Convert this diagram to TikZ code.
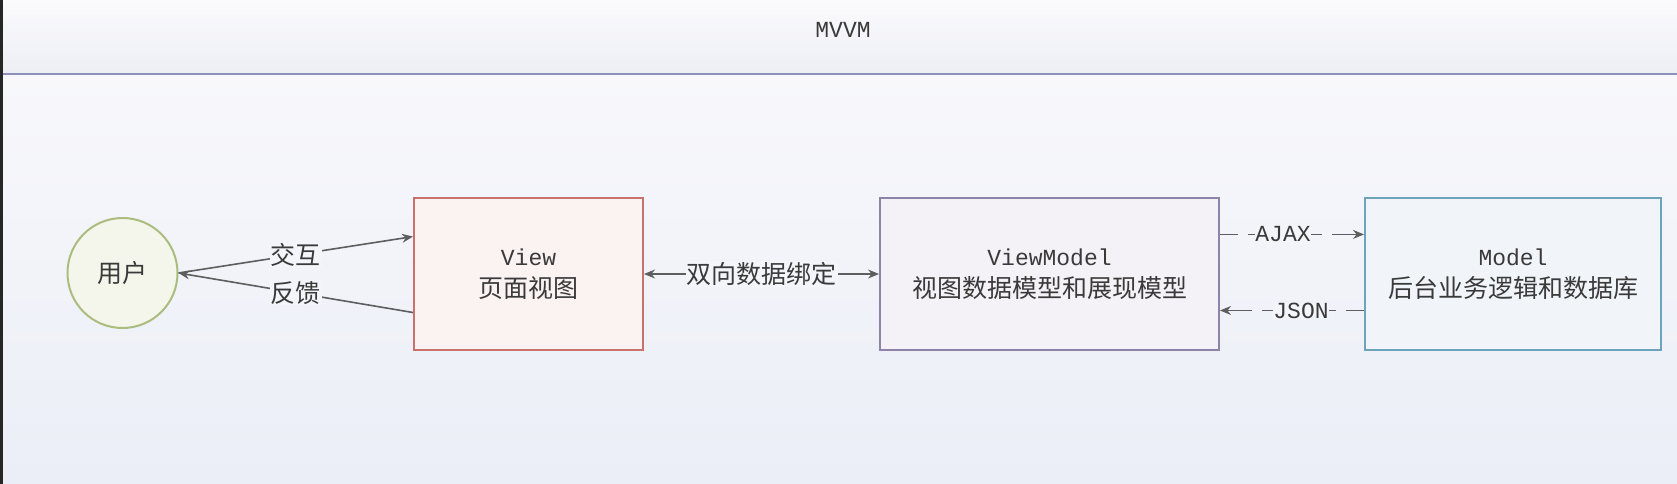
\documentclass[tikz,border=0pt]{standalone}
\usepackage{fontspec}
\newfontfamily\cjk{Noto Sans CJK SC}
\newfontfamily\mono{Liberation Mono}
\usetikzlibrary{arrows.meta,calc}
\definecolor{bgtop}{HTML}{F8F8FB}
\definecolor{bgbot}{HTML}{EBEEF7}
\definecolor{hdtop}{HTML}{FBFBFD}
\definecolor{hdbot}{HTML}{EDEEF5}
\definecolor{hdline}{HTML}{8C8FB6}
\definecolor{txt}{HTML}{3A3A3A}
\definecolor{conn}{HTML}{5E5E5E}
\definecolor{labbg}{HTML}{F4F5FA}
\definecolor{viewdraw}{HTML}{C9716D}
\definecolor{viewfill}{HTML}{FBF2F2}
\definecolor{vmdraw}{HTML}{8E84AA}
\definecolor{vmfill}{HTML}{F4F2F7}
\definecolor{mdraw}{HTML}{6EA3BD}
\definecolor{mfill}{HTML}{F1F5F9}
\definecolor{udraw}{HTML}{AABD7E}
\definecolor{ufill}{HTML}{F4F6EC}
\tikzset{
  cjkfont/.style={font=\cjk\fontsize{25}{32}\selectfont, text=txt},
  boxnode/.style={draw, line width=2pt, align=center, inner sep=0pt, cjkfont},
  conline/.style={draw=conn, line width=1.6pt, -{Stealth[length=11pt,width=9pt]}},
  dashline/.style={draw=conn, line width=1.6pt, dash pattern=on 18pt off 10pt},
  lab/.style={fill=labbg, inner sep=1pt, cjkfont},
  monolab/.style={fill=labbg, inner sep=0pt, font=\mono\fontsize{23}{28}\selectfont, text=txt},
}
\newcommand{\mtxt}[1]{{\mono\fontsize{23}{32}\selectfont #1}}
\begin{document}
\begin{tikzpicture}[x=1pt,y=-1pt]
\useasboundingbox (0,0) rectangle (1677,484);
% backgrounds
\shade[top color=hdtop, bottom color=hdbot] (0,0) rectangle (1677,74);
\shade[top color=bgtop, bottom color=bgbot] (0,74) rectangle (1677,484);
\draw[hdline, line width=2.5pt] (0,74) -- (1677,74);
\fill[black!85] (0,0) rectangle (2.5,484);
\node[font=\mono\fontsize{23}{28}\selectfont, text=txt] (title) at (843,30) {MVVM};
% nodes
\node[circle, draw=udraw, fill=ufill, line width=2pt, minimum size=110pt, inner sep=0pt, cjkfont] (user) at (122.5,273) {用户};
\node[boxnode, draw=viewdraw, fill=viewfill, minimum width=229pt, minimum height=152pt] (view) at (528.5,274) {\mtxt{View}\\页面视图};
\node[boxnode, draw=vmdraw, fill=vmfill, minimum width=339pt, minimum height=152pt] (vm) at (1049.5,274) {\mtxt{ViewModel}\\视图数据模型和展现模型};
\node[boxnode, draw=mdraw, fill=mfill, minimum width=296pt, minimum height=152pt] (model) at (1513,274) {\mtxt{Model}\\后台业务逻辑和数据库};
% anchor coordinates
\coordinate (vin) at ($(view.north west)!0.257!(view.south west)$);
\coordinate (vout) at ($(view.north west)!0.75!(view.south west)$);
\coordinate (vmr1) at ($(vm.north east)!0.243!(vm.south east)$);
\coordinate (vmr2) at ($(vm.north east)!0.737!(vm.south east)$);
\coordinate (ml1) at ($(model.north west)!0.243!(model.south west)$);
\coordinate (ml2) at ($(model.north west)!0.737!(model.south west)$);
\coordinate (ml1s) at ($(ml1)+(-18,0)$);
\coordinate (vmr2s) at ($(vmr2)+(18,0)$);
% connectors
\draw[conline] (user.east) -- node[lab] {交互} (vin);
\draw[conline] (vout) -- node[lab] {反馈} (user.east);
\draw[conline, {Stealth[length=11pt,width=9pt]}-{Stealth[length=11pt,width=9pt]}] (view.east) -- node[lab] {双向数据绑定} (vm.west);
\draw[dashline] (vmr1) -- node[monolab] {AJAX} (ml1s);
\draw[conline] (ml1s) -- (ml1);
\draw[dashline] (ml2) -- node[monolab] {JSON} (vmr2s);
\draw[conline] (vmr2s) -- (vmr2);
\end{tikzpicture}
\end{document}
